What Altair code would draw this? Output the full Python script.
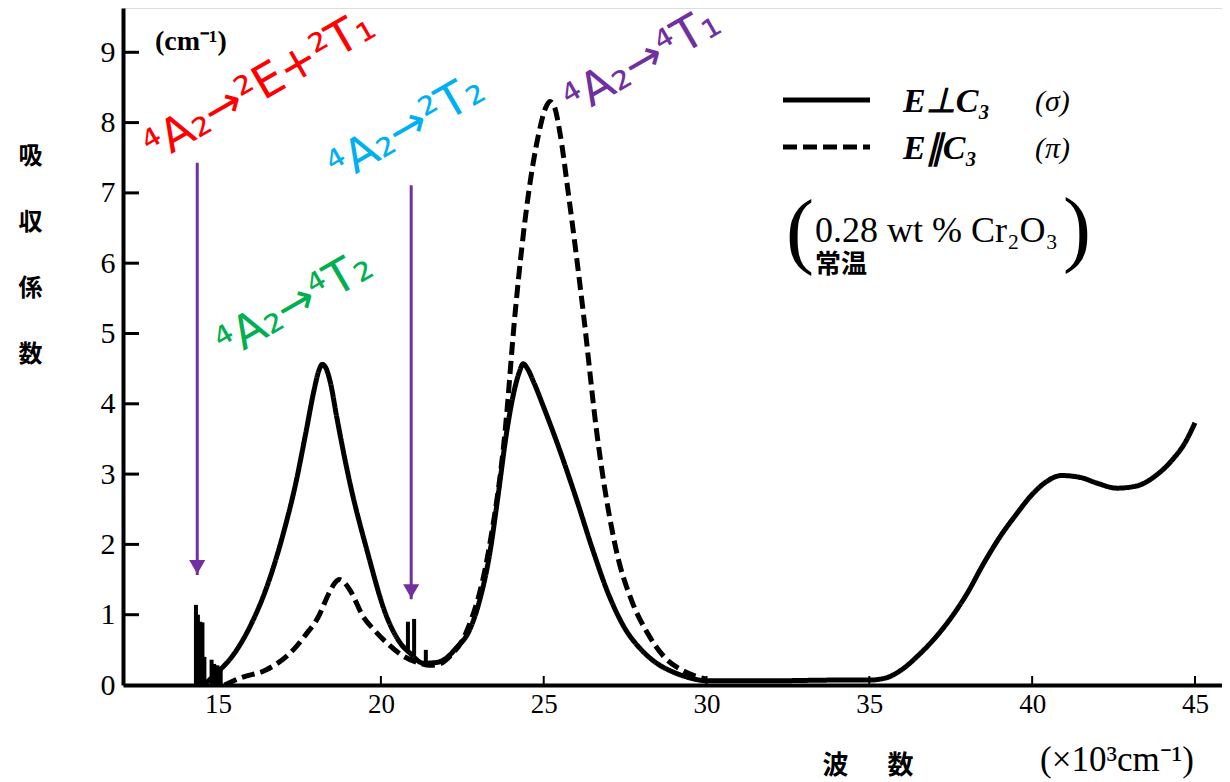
import altair as alt
import pandas as pd

# ---- data (wavenumber in 10^3 cm^-1, absorption coefficient in cm^-1) ----
sigma_x = [14.55, 14.96, 15.5, 16.0, 16.5, 17.0, 17.4, 17.7, 17.95, 18.1, 18.2, 18.32,
           18.45, 18.64, 19.05, 19.57, 20.18, 20.59, 20.9, 21.3, 21.7, 22.0,
           22.3, 22.74, 23.0, 23.35, 23.6, 23.86, 24.1, 24.25, 24.37, 24.5, 24.7, 25.0,
           25.5, 26.0, 26.5, 27.0, 27.5, 28.0, 28.5, 29.0, 29.5, 30.0, 32.0, 34.0,
           35.0, 35.5, 36.0, 36.5, 37.0, 37.5, 38.0, 38.5, 39.0, 39.5, 40.0, 40.4, 40.9,
           41.5, 42.0, 42.6, 43.2, 43.8, 44.3, 44.7, 45.0]
sigma_y = [0.0, 0.17, 0.45, 0.85, 1.4, 2.15, 2.9, 3.6, 4.2, 4.48, 4.56, 4.5,
           4.3, 3.82, 2.87, 1.92, 0.97, 0.60, 0.45, 0.31, 0.32, 0.38,
           0.52, 0.8, 1.15, 1.89, 2.7, 3.59, 4.2, 4.45, 4.57, 4.5, 4.3, 3.95,
           3.33, 2.65, 1.93, 1.28, 0.8, 0.5, 0.3, 0.18, 0.1, 0.06, 0.06, 0.07,
           0.07, 0.1, 0.22, 0.42, 0.66, 0.95, 1.3, 1.72, 2.1, 2.42, 2.71, 2.88, 2.98,
           2.95, 2.87, 2.80, 2.83, 2.98, 3.2, 3.45, 3.73]

pi_x = [15.2, 15.68, 16.5, 17.31, 17.7, 18.08, 18.4, 18.6, 18.72, 18.85, 19.05, 19.46,
        19.8, 20.18, 20.69, 21.2, 21.5, 21.8, 22.1, 22.63, 23.3, 23.81, 24.12, 24.53,
        24.85, 25.05, 25.19, 25.33, 25.5, 25.76, 26.22, 26.63, 27.24, 27.7, 28.16, 28.7,
        29.29, 30.0]
pi_y = [0.0, 0.1, 0.22, 0.5, 0.72, 0.97, 1.3, 1.46, 1.5, 1.47, 1.35, 0.97,
        0.78, 0.6, 0.41, 0.31, 0.28, 0.3, 0.4, 0.76, 1.89, 3.59, 5.28, 6.98,
        7.85, 8.2, 8.3, 8.22, 7.85, 6.98, 5.28, 3.59, 1.89, 1.2, 0.76, 0.4,
        0.2, 0.08]

series_names = ["E⊥C₃", "E∥C₃"]

# sharp lines (R lines near 14.4, B lines near 21)
spike_x = [14.32, 14.38, 14.45, 14.52, 14.58, 14.80, 14.88, 14.98, 15.08, 20.83, 21.02, 21.38]
spike_lo = [0, 0, 0, 0, 0, 0, 0, 0, 0, 0.5, 0.42, 0.31]
spike_hi = [1.14, 1.0, 0.9, 0.89, 0.4, 0.36, 0.3, 0.28, 0.25, 0.9, 0.94, 0.5]

x_ticks = [15, 20, 25, 30, 35, 40, 45]
y_ticks = [1, 2, 3, 4, 5, 6, 7, 8, 9]

arrow_x = [14.36, 20.93]
arrow_top = [7.43, 7.11]
arrow_tip = [1.565, 1.22]

ann_text = ["⁴A₂→²E+²T₁", "⁴A₂→²T₂", "⁴A₂→⁴T₂", "⁴A₂→⁴T₁"]
ann_x = [13.06, 18.72, 15.28, 25.96]
ann_y = [7.42, 7.13, 4.62, 8.08]
ann_color = ["#FF0000", "#00B0F0", "#00B050", "#7030A0"]

PURPLE = "#7030A0"
W, H = 1099, 677

xs = alt.Scale(domain=[12.08, 45.83], nice=False, zero=False)
ys = alt.Scale(domain=[0, 9.63], nice=False)

curves = pd.DataFrame({
    "v": sigma_x + pi_x,
    "a": sigma_y + pi_y,
    "series": [series_names[0]] * len(sigma_x) + [series_names[1]] * len(pi_x),
})

lines = alt.Chart(curves).mark_line(interpolate="monotone", strokeWidth=5, color="black").encode(
    x=alt.X("v:Q", scale=xs, axis=alt.Axis(
        values=x_ticks, ticks=False, grid=False, domainWidth=4, domainColor="black",
        labelFont="Liberation Serif", labelFontSize=27, labelColor="black", labelPadding=6,
        title="波\u2003\u2002数",
        titleFont="Noto Sans CJK JP", titleFontSize=26, titleFontWeight="bold",
        titleColor="black", titleAlign="left", titleX=699, titleY=80,
        titleBaseline="middle")),
    y=alt.Y("a:Q", scale=ys, axis=alt.Axis(
        values=list(range(0, 10)), format="d", ticks=False, grid=False, domainWidth=4,
        domainColor="black",
        labelFont="Liberation Serif", labelFontSize=30, labelColor="black", labelPadding=8,
        title=["吸", "収", "係", "数"], titleFont="Noto Sans CJK JP", titleFontSize=24,
        titleFontWeight="bold", titleColor="black", titleAngle=0, titleLineHeight=66,
        titleX=-93, titleY=136, titleAlign="center", titleBaseline="top")),
    strokeDash=alt.StrokeDash("series:N", scale=alt.Scale(domain=series_names, range=[[1, 0], [13, 6]]),
                              legend=None),
)

spikes = alt.Chart(pd.DataFrame({"v": spike_x, "lo": spike_lo, "hi": spike_hi})).mark_rule(
    strokeWidth=4, color="black").encode(
    x=alt.X("v:Q", scale=xs), y=alt.Y("lo:Q", scale=ys), y2="hi:Q")

yt = alt.Chart(pd.DataFrame({"t": y_ticks})).mark_rule(strokeWidth=3, color="black").encode(
    y=alt.Y("t:Q", scale=ys), x=alt.value(0), x2=alt.value(16))
xt = alt.Chart(pd.DataFrame({"t": x_ticks})).mark_rule(strokeWidth=2, color="black").encode(
    x=alt.X("t:Q", scale=xs), y=alt.value(H), y2=alt.value(H - 9))

arrows_df = pd.DataFrame({"v": arrow_x, "top": arrow_top, "tip": arrow_tip})
arrow_lines = alt.Chart(arrows_df).mark_rule(strokeWidth=3, color=PURPLE).encode(
    x=alt.X("v:Q", scale=xs), y=alt.Y("top:Q", scale=ys), y2="tip:Q")
arrow_heads = alt.Chart(arrows_df).mark_point(shape="triangle-down", filled=True, size=260,
                                              color=PURPLE, opacity=1, yOffset=-8).encode(
    x=alt.X("v:Q", scale=xs), y=alt.Y("tip:Q", scale=ys))

ann = alt.Chart(pd.DataFrame({"t": ann_text, "v": ann_x, "a": ann_y, "c": ann_color})).mark_text(
    font="DejaVu Sans", fontSize=46, angle=330, align="left", baseline="alphabetic").encode(
    x=alt.X("v:Q", scale=xs), y=alt.Y("a:Q", scale=ys), text="t:N",
    color=alt.Color("c:N", scale=None))


def ptext(text, x, y, **kw):
    return alt.Chart(pd.DataFrame({"t": [text]})).mark_text(color="black", **kw).encode(
        x=alt.value(x), y=alt.value(y), text="t:N")


def prule(x1, x2, y, dash):
    return alt.Chart(pd.DataFrame({"k": [0]})).mark_rule(strokeWidth=5, color="black",
                                                         strokeDash=dash).encode(
        x=alt.value(x1), x2=alt.value(x2), y=alt.value(y))


unit = ptext("(cm⁻¹)", 32, 34, font="Liberation Serif", fontSize=28, fontWeight="bold",
             align="left", baseline="middle")
xunit = ptext("(×10³cm⁻¹)", 917, 752, font="Liberation Serif", fontSize=35,
              align="left", baseline="middle")

legend = [
    prule(660, 747, 92, [1, 0]),
    prule(660, 747, 139, [14, 6]),
    ptext(series_names[0], 780, 94, font="Liberation Serif", fontSize=34, fontStyle="italic",
          fontWeight="bold", align="left", baseline="middle"),
    ptext(series_names[1], 780, 141, font="Liberation Serif", fontSize=34, fontStyle="italic",
          fontWeight="bold", align="left", baseline="middle"),
    ptext("(σ)", 912, 94, font="Liberation Serif", fontSize=30, fontStyle="italic",
          align="left", baseline="middle"),
    ptext("(π)", 912, 141, font="Liberation Serif", fontSize=30, fontStyle="italic",
          align="left", baseline="middle"),
    ptext("(", 663, 250, font="Liberation Serif", fontSize=84, align="left", baseline="alphabetic"),
    ptext(")", 940, 248, font="Liberation Serif", fontSize=84, align="left", baseline="alphabetic"),
    ptext("0.28 wt % Cr₂O₃", 692, 223, font="Liberation Serif", fontSize=36,
          align="left", baseline="middle"),
    ptext("常温", 692, 257, font="Noto Sans CJK JP", fontSize=26, fontWeight="bold",
          align="left", baseline="middle"),
]

chart = alt.layer(lines, spikes, yt, xt, arrow_lines, arrow_heads, ann, unit, xunit,
                  *legend).properties(
    width=W, height=H,
    autosize=alt.AutoSizeParams(type="none"),
    padding={"left": 115, "top": 0, "right": 0, "bottom": 95},
).configure_view(stroke=None).configure(background="white")

chart.save("out.html", embed_options={"renderer": "svg", "actions": False})
